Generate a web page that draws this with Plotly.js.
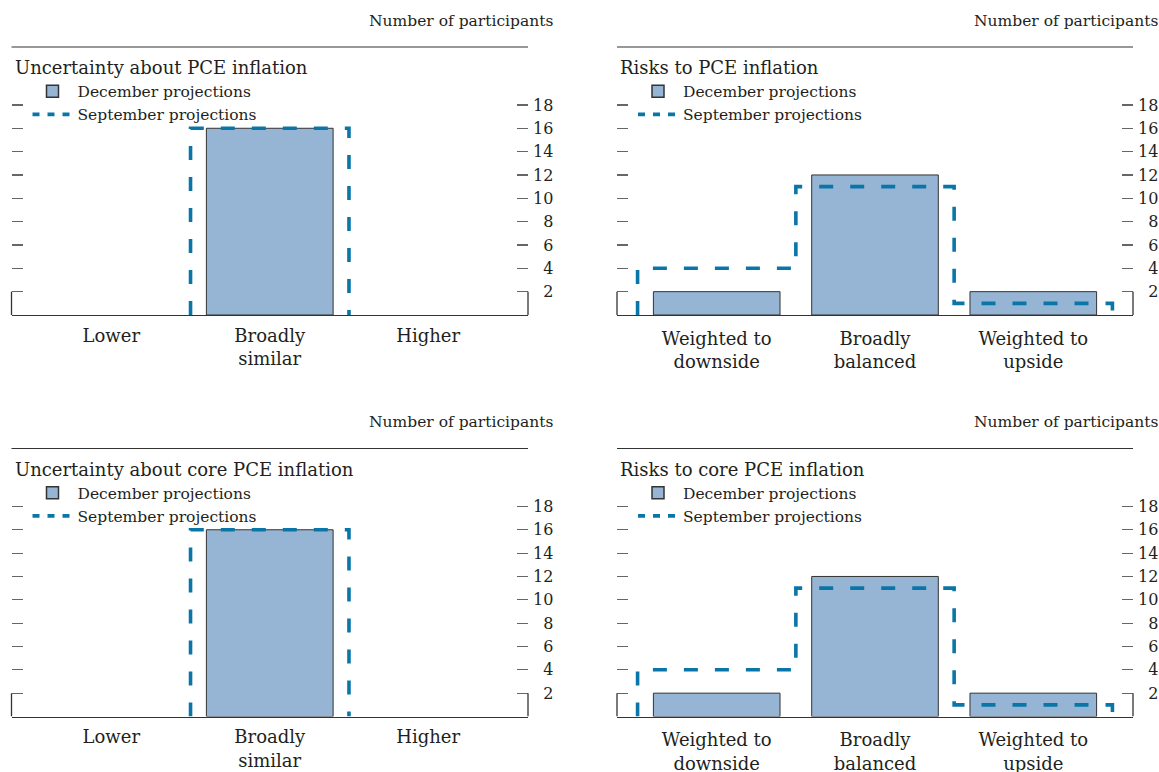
<!DOCTYPE html>
<html>
<head>
<meta charset="utf-8">
<script src="https://cdn.plot.ly/plotly-3.0.1.min.js"></script>
<style>
html,body{margin:0;padding:0;background:#fff;}
#chart{width:1159px;height:772px;}
</style>
</head>
<body>
<div id="chart"></div>
<script>
// ---- data ----
const uncertaintyCategories = ['Lower', 'Broadly<br>similar', 'Higher'];
const riskCategories = ['Weighted to<br>downside', 'Broadly<br>balanced', 'Weighted to<br>upside'];

const pceUncertaintyDec = [0, 16, 0];
const pceUncertaintySep = [0, 16, 0];
const pceRiskDec = [2, 12, 2];
const pceRiskSep = [4, 11, 1];

const coreUncertaintyDec = [0, 16, 0];
const coreUncertaintySep = [0, 16, 0];
const coreRiskDec = [2, 12, 2];
const coreRiskSep = [4, 11, 1];

const yTickVals = [2, 4, 6, 8, 10, 12, 14, 16, 18];
const panelTitles = ['Uncertainty about PCE inflation', 'Risks to PCE inflation',
                     'Uncertainty about core PCE inflation', 'Risks to core PCE inflation'];
const unitLabel = 'Number of participants';
const legendNames = ['December projections', 'September projections'];

// ---- styling ----
const W = 1159, H = 772;
const FONT = 'DejaVu Serif, Liberation Serif, serif';
const TXT = '#231f20';
const BAR_FILL = '#96b5d5';
const SEP_COLOR = '#0a76a8';
const FRAME = '#333333';
const TICKC = '#666666';

// step outline (September) built from data: one unit wide per category
function stepPath(vals) {
  const pts = [[-0.5, 0]];
  vals.forEach((v, i) => { pts.push([i - 0.5, v]); pts.push([i + 0.5, v]); });
  pts.push([vals.length - 0.5, 0]);
  while (pts.length > 2 && pts[0][1] === 0 && pts[1][1] === 0) pts.shift();
  while (pts.length > 2 && pts[pts.length - 1][1] === 0 && pts[pts.length - 2][1] === 0) pts.pop();
  return {x: pts.map(p => p[0]), y: pts.map(p => p[1])};
}

const panels = [
  {cats: uncertaintyCategories, dec: pceUncertaintyDec, sep: pceUncertaintySep, col: 0, row: 0},
  {cats: riskCategories, dec: pceRiskDec, sep: pceRiskSep, col: 1, row: 0},
  {cats: uncertaintyCategories, dec: coreUncertaintyDec, sep: coreUncertaintySep, col: 0, row: 1},
  {cats: riskCategories, dec: coreRiskDec, sep: coreRiskSep, col: 1, row: 1}
];

const colX = [[11.5, 528], [617, 1133]];   // plot left/right px
const rowOff = [0, 401.5];                 // vertical offset px
const Y0PX = 315, PXPERUNIT = 11.67, YMAX = 20;

const data = [];
const layout = {
  width: W, height: H,
  margin: {l: 0, r: 0, t: 0, b: 0},
  paper_bgcolor: '#fff', plot_bgcolor: 'rgba(0,0,0,0)',
  font: {family: FONT, color: TXT, size: 15},
  showlegend: true, barmode: 'overlay',
  shapes: [], annotations: []
};

panels.forEach((p, k) => {
  const n = k + 1;
  const xa = n === 1 ? 'x' : 'x' + n;
  const ya = n === 1 ? 'y' : 'y' + n;
  const lg = n === 1 ? 'legend' : 'legend' + n;
  const [xl, xr] = colX[p.col];
  const off = rowOff[p.row];
  const y0 = Y0PX + off;
  const yTop = y0 - YMAX * PXPERUNIT;

  data.push({
    type: 'bar', x: p.dec.map((_, i) => i), y: p.dec, name: legendNames[0],
    xaxis: xa, yaxis: ya, legend: lg, showlegend: false, width: 0.8,
    marker: {color: BAR_FILL, line: {color: FRAME, width: p.dec.map(v => v > 0 ? 1 : 0)}},
    hoverinfo: 'skip'
  });
  const sp = stepPath(p.sep);
  data.push({
    type: 'scatter', mode: 'lines', x: sp.x, y: sp.y, name: legendNames[1],
    xaxis: xa, yaxis: ya, legend: lg, showlegend: false,
    line: {color: SEP_COLOR, width: 3.6, dash: '14px,17px'},
    hoverinfo: 'skip'
  });
  // legend keys (no data of their own)
  data.push({
    type: 'bar', x: [null], y: [null], name: legendNames[0],
    xaxis: xa, yaxis: ya, legend: lg,
    marker: {color: BAR_FILL, line: {color: FRAME, width: 1.5}},
    hoverinfo: 'skip'
  });
  data.push({
    type: 'scatter', mode: 'lines', x: [null], y: [null], name: legendNames[1],
    xaxis: xa, yaxis: ya, legend: lg,
    line: {color: SEP_COLOR, width: 3.6, dash: '7px,8px'},
    hoverinfo: 'skip'
  });

  layout['xaxis' + (n === 1 ? '' : n)] = {
    domain: [xl / W, xr / W], anchor: ya,
    range: [-0.63, 2.63], tickvals: p.cats.map((_, i) => i), ticktext: p.cats,
    showline: true, linecolor: FRAME, linewidth: 1.3, ticks: '',
    showgrid: false, zeroline: false, fixedrange: true,
    tickfont: {size: 18, family: FONT, color: TXT},
    ticklabelstandoff: p.col === 0 ? 4 : 7
  };
  layout['yaxis' + (n === 1 ? '' : n)] = {
    domain: [1 - y0 / H, 1 - yTop / H], anchor: xa, side: 'right',
    range: [0, YMAX], tickvals: yTickVals,
    ticktext: yTickVals.map(v => (v < 10 ? '\u2007' : '') + v),
    ticks: 'inside', ticklen: 11, tickwidth: 1.2, tickcolor: TICKC,
    mirror: 'ticks', showline: false,
    showgrid: false, zeroline: false, fixedrange: true,
    tickfont: {size: 16, family: FONT, color: TXT}, ticklabelstandoff: 4
  };
  layout[lg] = {
    x: (xl + 16) / W, y: 1 - (yTop - 7) / H, xanchor: 'left', yanchor: 'top',
    bgcolor: 'rgba(0,0,0,0)', borderwidth: 0,
    font: {size: 15.5, family: FONT, color: TXT},
    itemwidth: 40, tracegroupgap: 0, traceorder: 'normal'
  };

  // bracket verticals at both frame edges up to first tick
  [0, 1].forEach(e => layout.shapes.push({
    type: 'line', xref: xa + ' domain', yref: ya, x0: e, x1: e, y0: 0, y1: yTickVals[0],
    line: {color: FRAME, width: 1.3}
  }));
  // header rule
  layout.shapes.push({
    type: 'line', xref: 'paper', yref: 'paper',
    x0: xl / W, x1: xr / W, y0: 1 - (47 + off) / H, y1: 1 - (47 + off) / H,
    line: {color: FRAME, width: 1.2}
  });
  layout.annotations.push({
    xref: 'paper', yref: 'paper', x: (xr + 27) / W, y: 1 - (21 + off) / H,
    xanchor: 'right', yanchor: 'middle', text: unitLabel, showarrow: false,
    font: {size: 15.5, family: FONT, color: TXT}
  });
  layout.annotations.push({
    xref: 'paper', yref: 'paper', x: (xl + 1) / W, y: 1 - (68 + off) / H,
    xanchor: 'left', yanchor: 'middle', text: panelTitles[k], showarrow: false,
    font: {size: 18, family: FONT, color: TXT}
  });
});

Plotly.newPlot('chart', data, layout, {displayModeBar: false, staticPlot: true});
</script>
</body>
</html>
